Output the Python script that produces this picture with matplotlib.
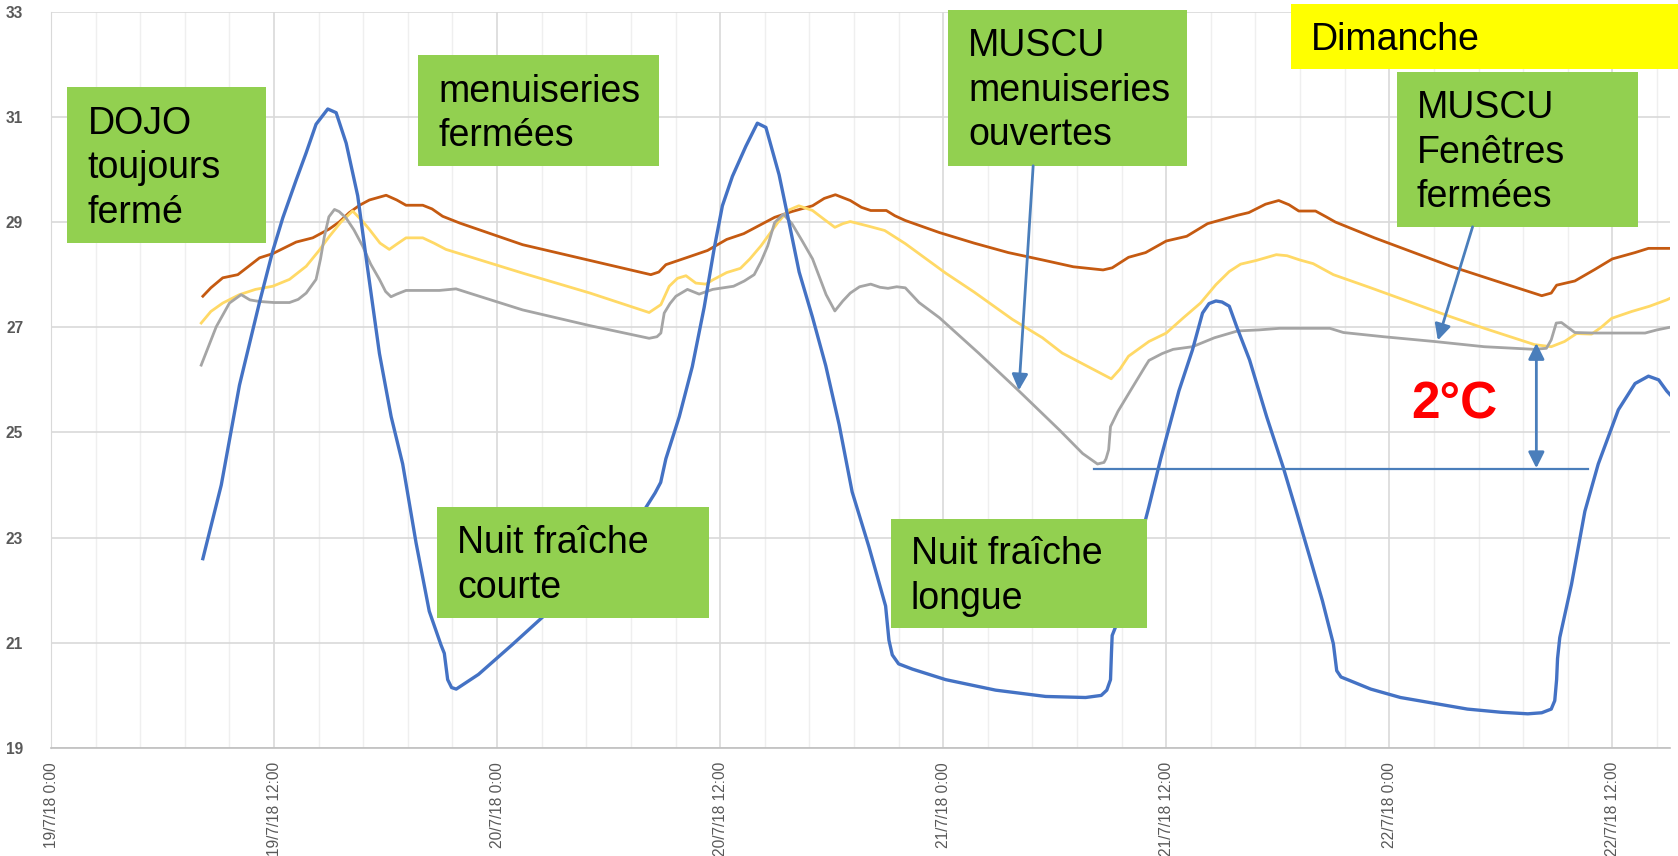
import numpy as np
import matplotlib
matplotlib.use("Agg")
import matplotlib.pyplot as plt
from matplotlib.patches import Rectangle

plt.rcParams['font.family'] = ['Liberation Sans', 'DejaVu Sans']

# hours since 19/7/18 0:00 -> temperature (°C)
blue_h = [8.17, 9.16, 10.14, 11.2, 11.93, 12.47, 13.19, 13.72, 14.26, 14.89, 15.34, 15.88, 16.5,
          17.0, 17.67, 18.3, 18.92, 19.64, 20.35, 20.98, 21.16, 21.34, 21.55, 21.8, 23.0, 24.8,
          26.45, 28.5, 30.5, 31.6, 32.0, 32.5, 32.8, 33.08, 33.8, 34.5, 35.14, 35.68, 36.12, 36.66,
          37.38, 38.0, 38.46, 39.17, 39.7, 40.25, 40.96, 41.68, 42.4, 43.1, 44.0, 44.9, 45.08,
          45.26, 45.6, 46.34, 48.13, 50.82, 53.51, 55.66, 56.5, 56.8, 57.0, 57.05, 57.09, 57.27,
          58.0, 58.89, 59.06, 59.7, 60.68, 61.41, 61.95, 62.3, 62.67, 63.0, 63.39, 63.8, 64.48,
          65.4, 66.28, 67.0, 67.72, 68.4, 68.99, 69.17, 69.4, 69.89, 71.0, 72.6, 74.4, 76.2, 78.0,
          79.45, 80.2, 80.71, 80.9, 81.0, 81.05, 81.17, 81.8, 82.52, 83.24, 84.32, 85.22, 85.94,
          86.49, 86.92, 87.1]
blue_t = [22.6, 24.0, 25.9, 27.45, 28.45, 29.08, 29.8, 30.31, 30.86, 31.15, 31.08, 30.5, 29.5,
          28.2, 26.5, 25.3, 24.4, 22.9, 21.6, 20.96, 20.8, 20.3, 20.15, 20.12, 20.4, 20.96,
          21.49, 22.15, 22.8, 23.3, 23.57, 23.85, 24.05, 24.5, 25.3, 26.25, 27.38, 28.5, 29.31, 29.87,
          30.44, 30.88, 30.8, 29.9, 29.0, 28.05, 27.2, 26.27, 25.15, 23.87, 22.83, 21.7, 21.05,
          20.77, 20.6, 20.5, 20.3, 20.1, 19.98, 19.96, 20.0, 20.1, 20.3, 20.8, 21.14, 21.3,
          22.2, 23.35, 23.58, 24.5, 25.79, 26.57, 27.27, 27.45, 27.5, 27.48, 27.4, 27.0, 26.38,
          25.3, 24.35, 23.5, 22.63, 21.8, 20.98, 20.47, 20.35, 20.28, 20.12, 19.96, 19.85, 19.74, 19.68,
          19.65, 19.67, 19.74, 19.9, 20.3, 20.7, 21.1, 22.11, 23.5, 24.4, 25.43, 25.93, 26.07,
          26.0, 25.79, 25.72]

orange_h = [8.17, 8.6, 9.24, 10.05, 10.6, 11.22, 11.93, 12.5, 13.19, 14.08, 14.98, 15.5, 16.05,
            16.6, 17.13, 18.03, 18.6, 19.1, 20.0, 20.5, 21.07, 22.0, 25.37, 29.0, 32.27, 32.7,
            33.08, 34.33, 35.32, 36.35, 37.27, 38.93, 39.86, 40.97, 41.6, 42.2, 43.0, 43.6, 44.1,
            44.94, 45.4, 45.96, 47.8, 49.66, 51.5, 53.34, 55.0, 56.6, 57.09, 57.97, 58.89, 60.0,
            61.1, 62.22, 63.84, 64.44, 65.34, 66.05, 66.6, 67.13, 68.03, 68.6, 69.1, 71.2, 73.4,
            75.3, 78.0, 80.2, 80.71, 81.0, 81.98, 83.06, 84.0, 85.22, 85.94, 87.1]
orange_t = [27.59, 27.75, 27.94, 28.0, 28.15, 28.32, 28.4, 28.5, 28.62, 28.7, 28.87, 29.0, 29.18,
            29.32, 29.42, 29.51, 29.42, 29.32, 29.32, 29.25, 29.11, 28.98, 28.57, 28.27, 28.0, 28.05,
            28.19, 28.34, 28.46, 28.67, 28.78, 29.09, 29.2, 29.31, 29.45, 29.52, 29.41, 29.28, 29.22,
            29.22, 29.12, 29.03, 28.8, 28.6, 28.42, 28.28, 28.15, 28.09, 28.13, 28.33, 28.42, 28.64,
            28.73, 28.97, 29.13, 29.18, 29.34, 29.41, 29.33, 29.21, 29.21, 29.1, 29.0, 28.7, 28.41,
            28.16, 27.85, 27.6, 27.65, 27.8, 27.88, 28.1, 28.3, 28.42, 28.5, 28.5]

yellow_h = [8.08, 8.6, 9.24, 10.14, 11.0, 11.93, 12.83, 13.73, 14.4, 14.98, 15.6, 16.23, 16.8,
            17.13, 17.7, 18.2, 18.6, 19.1, 20.0, 20.6, 21.25, 25.37, 29.0, 32.18, 32.81, 33.26,
            33.7, 34.16, 34.69, 35.23, 35.6, 36.35, 37.09, 37.6, 38.2, 39.12, 39.7, 40.23, 40.97,
            41.6, 42.17, 42.6, 43.0, 43.9, 44.85, 45.96, 48.13, 49.66, 51.72, 53.34, 54.4, 55.8,
            57.04, 57.5, 57.97, 59.07, 60.0, 60.92, 61.84, 62.67, 63.39, 64.0, 64.84, 65.92, 66.5,
            67.18, 67.9, 68.99, 71.0, 73.5, 75.3, 77.11, 79.81, 80.71, 81.43, 82.07, 82.88, 83.4,
            83.96, 85.04, 86.0, 86.92, 87.1]
yellow_t = [27.08, 27.3, 27.46, 27.62, 27.72, 27.78, 27.91, 28.16, 28.45, 28.73, 29.0, 29.21, 29.0,
            28.86, 28.6, 28.48, 28.58, 28.7, 28.7, 28.6, 28.48, 28.03, 27.65, 27.28, 27.43, 27.78,
            27.93, 27.98, 27.84, 27.82, 27.9, 28.04, 28.12, 28.3, 28.55, 29.0, 29.23, 29.31, 29.22,
            29.05, 28.9, 28.97, 29.01, 28.93, 28.84, 28.59, 28.03, 27.67, 27.15, 26.8, 26.51, 26.25,
            26.02, 26.2, 26.45, 26.73, 26.89, 27.18, 27.46, 27.81, 28.06, 28.2, 28.27, 28.38, 28.36,
            28.28, 28.21, 28.0, 27.75, 27.43, 27.2, 26.98, 26.67, 26.63, 26.73, 26.88, 26.87, 27.0,
            27.17, 27.3, 27.4, 27.52, 27.55]

gray_h = [8.08, 8.89, 9.6, 10.23, 10.7, 11.22, 12.0, 12.83, 13.3, 13.73, 14.26, 14.5, 14.71,
          14.95, 15.25, 15.5, 15.87, 16.3, 16.77, 17.2, 17.67, 18.0, 18.29, 18.6, 19.1, 20.0,
          20.89, 21.79, 22.5, 25.37, 29.0, 32.18, 32.6, 32.81, 32.99, 33.3, 33.62, 34.24, 34.87,
          35.6, 36.72, 37.3, 37.83, 38.2, 38.56, 38.93, 39.4, 39.86, 40.4, 40.97, 41.7, 42.17,
          42.6, 43.0, 43.5, 44.1, 44.6, 45.03, 45.5, 45.96, 46.7, 47.8, 49.9, 51.5, 52.07, 54.27,
          55.5, 56.3, 56.65, 56.76, 56.9, 57.0, 57.4, 58.15, 58.89, 59.07, 59.78, 60.37, 61.41,
          62.59, 63.84, 65.0, 66.1, 68.8, 69.53, 71.69, 74.4, 77.11, 79.81, 80.45, 80.71, 80.98,
          81.26, 81.6, 81.98, 83.06, 85.76, 86.4, 87.1]
gray_t = [26.28, 27.01, 27.46, 27.62, 27.52, 27.49, 27.47, 27.47, 27.53, 27.65, 27.91, 28.3, 28.73,
          29.1, 29.24, 29.2, 29.08, 28.85, 28.54, 28.2, 27.91, 27.68, 27.58, 27.63, 27.7, 27.7,
          27.7, 27.73, 27.65, 27.33, 27.03, 26.79, 26.82, 26.89, 27.27, 27.45, 27.59, 27.72, 27.63,
          27.72, 27.78, 27.88, 28.0, 28.25, 28.55, 28.99, 29.15, 28.97, 28.65, 28.3, 27.62, 27.31,
          27.5, 27.65, 27.77, 27.82, 27.76, 27.74, 27.77, 27.75, 27.47, 27.18, 26.51, 25.98, 25.79, 25.04,
          24.6, 24.4, 24.43, 24.5, 24.67, 25.11, 25.4, 25.84, 26.27, 26.37, 26.5, 26.58, 26.63,
          26.8, 26.93, 26.95, 26.98, 26.98, 26.9, 26.82, 26.73, 26.63, 26.58, 26.6, 26.76, 27.08,
          27.09, 27.0, 26.9, 26.89, 26.89, 26.95, 27.0]

tick_hours = [0, 12, 24, 36, 48, 60, 72, 84]
tick_labels = ["19/7/18 0:00", "19/7/18 12:00", "20/7/18 0:00", "20/7/18 12:00",
               "21/7/18 0:00", "21/7/18 12:00", "22/7/18 0:00", "22/7/18 12:00"]
y_ticks = [19, 21, 23, 25, 27, 29, 31, 33]

GREEN = "#92D050"
YELLOW = "#FFFF00"
ARROW = "#4A7EBB"

# callouts: text, x0, x1 (hours), y0, y1 (°C), fill
boxes = [
    ("DOJO\ntoujours\nfermé", 0.88, 11.55, 28.61, 31.56, GREEN),
    ("menuiseries\nfermées", 19.76, 32.72, 30.07, 32.17, GREEN),
    ("MUSCU\nmenuiseries\nouvertes", 48.26, 61.1, 30.07, 33.04, GREEN),
    ("Dimanche", 66.7, 87.6, 31.91, 33.15, YELLOW),
    ("MUSCU\nFenêtres\nfermées", 72.4, 85.4, 28.91, 31.85, GREEN),
    ("Nuit fraîche\ncourte", 20.78, 35.4, 21.48, 23.58, GREEN),
    ("Nuit fraîche\nlongue", 45.18, 58.99, 21.28, 23.36, GREEN),
]

fig = plt.figure(figsize=(16.78, 8.56), dpi=100)
ax = fig.add_axes([51 / 1678, 1 - 748 / 856, (1670 - 51) / 1678, (748 - 11.7) / 856])

ax.plot(orange_h, orange_t, color="#C55A11", lw=2.0, zorder=3, solid_joinstyle="round")
ax.plot(yellow_h, yellow_t, color="#FFD966", lw=2.0, zorder=3, solid_joinstyle="round")
ax.plot(gray_h, gray_t, color="#A5A5A5", lw=2.0, zorder=3, solid_joinstyle="round")
ax.plot(blue_h, blue_t, color="#4472C4", lw=2.4, zorder=4, solid_joinstyle="round")

ax.set_xlim(0, 87.1)
ax.set_ylim(19, 33)
ax.set_xticks(tick_hours)
ax.set_xticklabels(tick_labels, rotation=90, fontsize=11.2, color="#595959")
ax.set_xticks(np.arange(0, 87.1, 2.4), minor=True)
ax.set_yticks(y_ticks)
ax.set_yticklabels([str(v) for v in y_ticks], fontsize=11.2, color="#595959",
                   fontweight="bold")
ax.tick_params(axis="both", which="both", length=0)
ax.tick_params(axis="x", pad=10)
ax.tick_params(axis="y", pad=20)
ax.grid(True, which="major", color="#D9D9D9", lw=1.2, zorder=0)
ax.grid(True, which="minor", axis="x", color="#EFEFEF", lw=1.0, zorder=0)
ax.set_axisbelow(True)
for s in ("top", "right"):
    ax.spines[s].set_visible(False)
ax.spines["left"].set_color("#D9D9D9")
ax.spines["bottom"].set_color("#BFBFBF")
ax.spines["bottom"].set_linewidth(1.2)

for txt, x0, x1, y0, y1, fc in boxes:
    ax.add_patch(Rectangle((x0, y0), x1 - x0, y1 - y0, facecolor=fc, edgecolor="none",
                           clip_on=False, zorder=6))
    ax.text(x0 + 1.08, (y0 + y1) / 2 - 0.06, txt, ha="left", va="center", fontsize=27,
            color="black", linespacing=1.3, zorder=7, clip_on=False)

# arrows pointing at the grey curve
ax.annotate("", xy=(52.07, 25.8), xytext=(52.84, 30.07),
            arrowprops=dict(arrowstyle="-|>", color=ARROW, lw=2, mutation_scale=24,
                            shrinkA=0, shrinkB=0), zorder=8)
ax.annotate("", xy=(74.61, 26.75), xytext=(76.48, 28.91),
            arrowprops=dict(arrowstyle="-|>", color=ARROW, lw=2, mutation_scale=24,
                            shrinkA=0, shrinkB=0), zorder=8)
ax.annotate("", xy=(79.91, 26.7), xytext=(79.91, 24.32),
            arrowprops=dict(arrowstyle="<|-|>", color=ARROW, lw=2, mutation_scale=24,
                            shrinkA=0, shrinkB=0), zorder=8)
ax.plot([56.1, 82.68], [24.31, 24.31], color=ARROW, lw=1.6, zorder=5)
ax.text(75.5, 25.52, "2°C", color="#FF0000", fontsize=37, fontweight="bold",
        ha="center", va="center", zorder=8)

fig.savefig("out.png", dpi=100)
